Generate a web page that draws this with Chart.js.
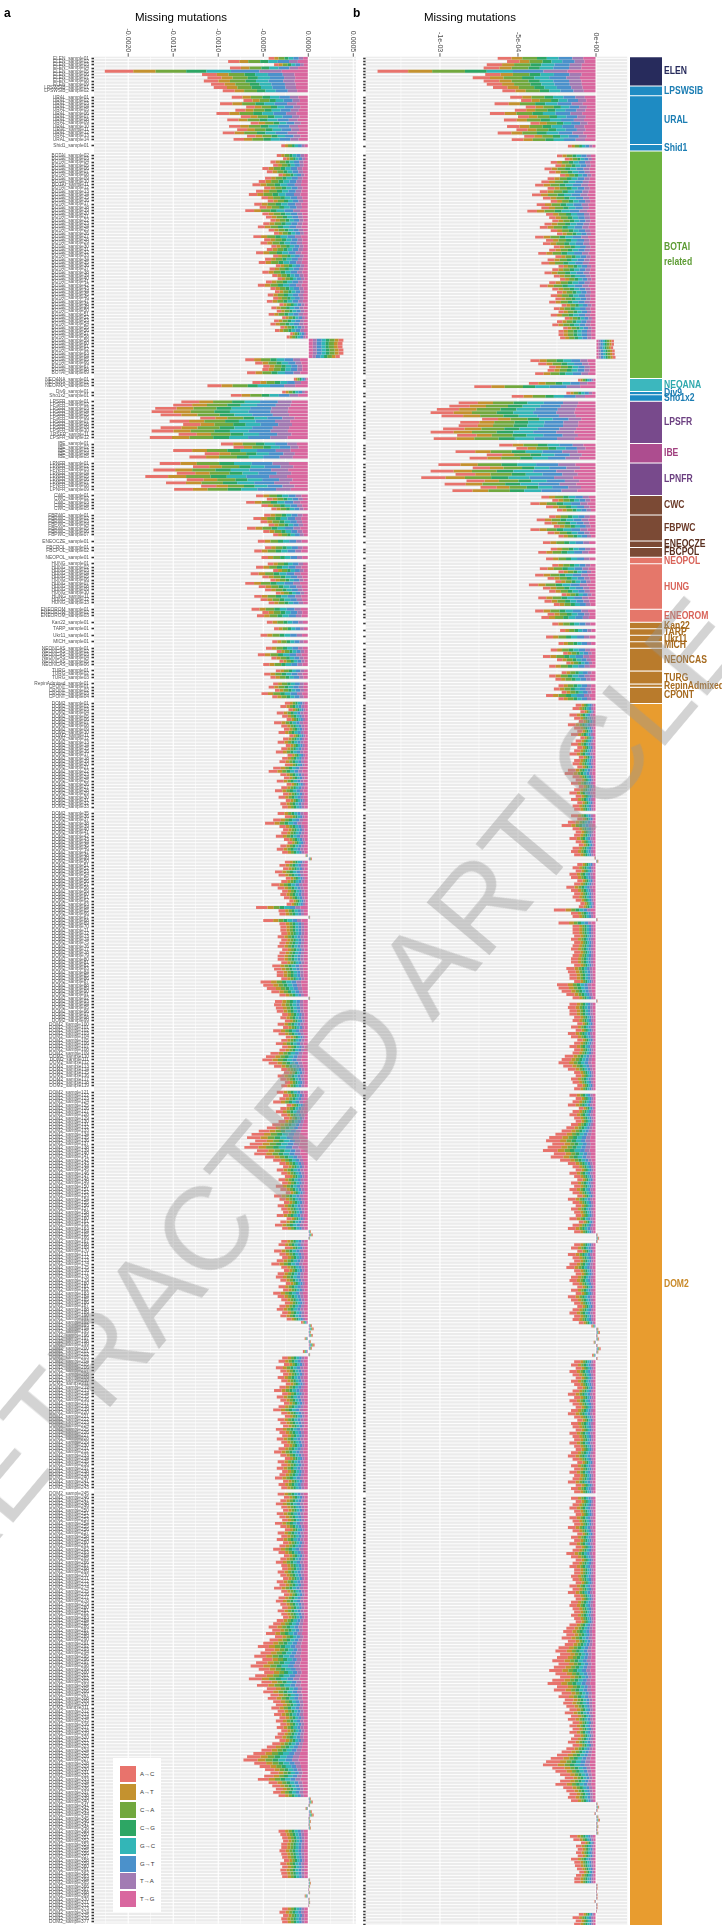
<!DOCTYPE html>
<html>
<head>
<meta charset="utf-8">
<script src="https://cdn.jsdelivr.net/npm/chart.js@4.4.1/dist/chart.umd.min.js"></script>
<style>
html, body { margin: 0; padding: 0; background: #fff; }
body { width: 722px; height: 1925px; overflow: hidden; position: relative; font-family: 'Liberation Sans', Arial, sans-serif; }
canvas { position: absolute; top: 0; }
#cA { left: 0; }
#cB { left: 340px; }
#cG { left: 630px; }
#legend { position: absolute; left: 113px; top: 1758px; width: 48px; height: 154px; background: #fff; }
#legend .key { position: absolute; left: 7px; width: 16px; height: 16px; }
#legend .lab { position: absolute; left: 27px; font-size: 6px; line-height: 16px; color: #333; white-space: nowrap; }
#wm { position: absolute; left: 322px; top: 1094px; width: 1400px; height: 140px; line-height: 140px; text-align: center;
      transform: translate(-50%, -50%) rotate(-50deg);
      font: 118px 'Liberation Sans', Arial, sans-serif; color: rgba(150,150,150,0.42);
      white-space: nowrap; pointer-events: none; z-index: 10; }
</style>
</head>
<body>
<canvas id="cA" width="358" height="1929"></canvas>
<canvas id="cB" width="290" height="1929"></canvas>
<canvas id="cG" width="92" height="1929"></canvas>
<div id="legend"></div>
<div id="wm">RETRACTED ARTICLE</div>
<script>
// ===== Data =====
const mutTypes = ['A→C', 'A→T', 'C→A', 'C→G', 'G→C', 'G→T', 'T→A', 'T→G'];
const mutColors = ['#E8736C', '#C4922F', '#72A83E', '#2DA664', '#33B6B7', '#4B91CB', '#A27BB3', '#D9679F'];

// share of each mutation type in a bar (ancient samples / modern DOM2 samples)
const shareAncient = [0.14, 0.11, 0.15, 0.10, 0.12, 0.14, 0.11, 0.13];
const shareModernA = [0.22, 0.12, 0.11, 0.09, 0.11, 0.10, 0.10, 0.15];
const shareModernB = [0.28, 0.13, 0.10, 0.09, 0.10, 0.09, 0.09, 0.12];

const groupNames = ['ELEN', 'LPSWSIB', 'URAL', 'Shid1', 'BOTAI related', 'NEOANA', 'Div9', 'Sho1x2', 'LPSFR', 'IBE',
  'LPNFR', 'CWC', 'FBPWC', 'ENEOCZE', 'FBCPOL', 'NEOPOL', 'HUNG', 'ENEOROM', 'Kan22', 'TARP',
  'Ukr11', 'MICH', 'NEONCAS', 'TURG', 'RepinAdmixed', 'CPONT', 'DOM2'];
// rows per group (blank separator rows included)
const groupSizes = [9, 3, 15, 2, 70, 4, 1, 2, 13, 6, 10, 6, 8, 2, 3, 2, 14, 4, 2, 2, 2, 2, 7, 4, 1, 5, 377];
const groupFill = ['#272B5C', '#1E8BC3', '#1E8BC3', '#1E8BC3', '#6DB33F', '#3CB7BE', '#1E8BC3', '#1E8BC3', '#784A8C', '#AD4D8F',
  '#784A8C', '#7B4A35', '#7B4A35', '#7B4A35', '#7B4A35', '#E5776A', '#E5776A', '#E5776A', '#B97B2C', '#B97B2C',
  '#B97B2C', '#B97B2C', '#B97B2C', '#B97B2C', '#B97B2C', '#B97B2C', '#E89C2F'];
const groupText = ['#272B5C', '#1B7DB3', '#1B7DB3', '#1B7DB3', '#5E9C35', '#2FA9AE', '#1B7DB3', '#1B7DB3', '#6B3F80', '#A0407F',
  '#6B3F80', '#6B3A28', '#6B3A28', '#5A3020', '#5A3020', '#D9645A', '#D9645A', '#D9645A', '#A66A1F', '#A66A1F',
  '#A66A1F', '#A66A1F', '#A66A1F', '#A66A1F', '#A66A1F', '#A66A1F', '#C98A2A'];

// panel a: total missing mutations per row (x 1e-4), null = blank row
const missA = [
  -4.4, -8.9, -3.8, -8.7, -22.6, -11.8, -11.2, -11.6, -10.8,           // ELEN
  -10.5, -9.5, null,                                                    // LPSWSIB
  -8.5, -7.2, -9.8, -6.9, -8.1, -10.2, -7.5, -9.0, -6.4, -8.8, -7.9, -9.5, -6.8, -8.3, null, // URAL
  -3.0, null,                                                           // Shid1
  null,                                                                 // BOTAI related
  -3.5, -2.8, -4.2, -3.9, -5.1, -4.6, -3.3, -4.8, -5.5, -6.2,
  -4.9, -5.8, -6.6, -5.2, -4.5, -6.0, -5.4, -7.0, -5.1, -4.7,
  -4.2, -5.0, -5.6, -4.4, -3.8, -6.1, -4.9, -5.3, -4.1, -4.6,
  -5.8, -3.9, -4.8, -5.5, -3.6, -4.3, -5.1, -4.0, -3.4, -4.7,
  -5.6, -4.2, -3.7, -4.5, -3.9, -4.6, -3.2, -4.1, -3.5, -4.4,
  -2.9, -3.8, -4.2, -3.1,
  -3.7, -2.0, -2.4,
  3.9, 3.8, 3.8, 3.9, 3.9, 3.5,
  -7.0, -5.9, -5.0, -5.1, -6.8, null,
  -1.6, -6.2, -11.2, null,                                              // NEOANA
  -2.9,                                                                 // Div9
  -8.6, null,                                                           // Sho1x2
  -14.1, -15.0, -17.0, -17.4, -16.4, -12.0, -15.4, -13.9, -16.4, -17.4, -14.4, -17.6, null, // LPSFR
  -9.7, -8.3, -15.0, -11.5, -13.2, null,                                // IBE
  -16.5, -12.8, -17.2, -14.6, -18.1, -13.5, -15.8, -11.9, -14.9, null,  // LPNFR
  -5.8, -4.6, -6.9, -5.2, -4.1, null,                                   // CWC
  -4.9, -6.1, -5.3, -4.4, -6.8, -5.0, -3.9, null,                       // FBPWC
  -5.6, null,                                                           // ENEOCZE
  -4.8, -6.0, null,                                                     // FBCPOL
  -5.2, null,                                                           // NEOPOL
  -4.5, -5.8, -3.9, -6.4, -5.1, -4.2, -7.0, -5.5, -4.8, -3.6, -6.0, -5.3, -4.4, null, // HUNG
  -6.3, -5.1, -5.7, null,                                               // ENEOROM
  -4.6, null,                                                           // Kan22
  -3.8, null,                                                           // TARP
  -5.3, null,                                                           // Ukr11
  -4.0, null,                                                           // MICH
  -4.7, -3.5, -5.6, -4.1, -3.2, -5.0, null,                             // NEONCAS
  -3.6, -4.9, -4.2, null,                                               // TURG
  -3.9,                                                                 // RepinAdmixed
  -4.4, -3.7, -5.2, -4.0, null,                                         // CPONT
  // DOM2
  -2.6, -3.1, -2.2, -3.5, -2.9, -2.4, -3.8, -3.0, -2.7, -3.3,
  -2.1, -2.8, -3.4, -2.5, -3.0, -3.6, -2.3, -2.9, -3.2, -2.6,
  -3.9, -4.4, -3.1, -2.7, -3.5, -2.4, -3.0, -3.7, -2.8, -3.3,
  -2.5, -3.1, -2.9, null, -3.4, -2.6, -3.9, -4.8, -3.2, -2.8,
  -3.0, -3.6, -2.7, -2.3, -3.1, -3.5, -2.9, -0.3, 0.4, -2.6,
  -3.2, -2.8, -3.7, -3.3, -2.5, -3.0, -4.1, -3.4, -2.9, -3.1,
  -2.7,
  -2.1, -2.4, -5.8, -3.3, -3.2, 0.2, -5.0, -3.2, -3.1, -3.1,
  -3.0, -3.4, -3.0, -3.2, -3.4, -2.9, -3.2, -3.4, -3.4, -3.0,
  -4.0, -3.8, -3.5, -3.5, -3.0, -5.3, -5.0, -4.6, -4.1, -3.2,
  0.2, -3.7, -3.8, -3.6, -3.5, -2.9,
  -3.1, -2.6, -3.4, -2.8, -3.9, -3.3, -2.5, -3.0, -3.6, -2.9,
  -3.2, -4.2, -4.7, -5.1, -4.4, -3.8, -3.0, -2.7, -3.4, -3.1,
  -2.6, -3.0, null, -3.5, -2.8, -3.2, -3.9, -2.4, -3.1, -3.6,
  -3.0, -2.7, -3.3, -4.0, -4.6, -5.5, -6.3, -6.8, -5.9, -6.5,
  -7.1, -5.7, -6.0, -4.8, -3.9, -3.2, -2.8, -3.5, -3.0, -2.6,
  -3.3, -2.9, -3.6, -3.1, -2.5, -3.8, -3.2, -2.7, -3.4, -3.0,
  -2.8, -3.5, -2.4, -3.1, -3.7, -2.9, 0.3, 0.5, 0.2, -3.0,
  -3.3, -2.6, -3.8, -3.2, -2.9, -3.5, -4.1, -3.0, -2.7, -3.4,
  -3.6, -3.1, -2.5, -3.3, -2.8, -3.9, -3.4, -3.0, -2.6, -3.2,
  -3.5, -2.9, -3.1, -2.4, -0.8, 0.4, 0.6, 0.3, 0.5, -0.4,
  0.3, 0.7, 0.4, -0.6, 0.2, -2.9, -3.3, -2.7, -3.6, -3.1,
  -2.8, -3.4, -3.0, -2.5, -3.2, -3.8, -2.9, -3.5, -3.1, -2.7,
  -3.3, -3.9, -3.0, -2.6, -3.4, -3.1, -2.8, -3.6, -3.2, -2.9,
  -3.5, -3.0, -2.7, -3.3, -3.8, -3.1, -2.6, -3.4, -3.0, -3.5,
  -2.9, -3.2, -3.7, -2.8, -3.3, -3.0, null, -3.4, -2.7, -3.1,
  -3.6, -3.0, -2.8, -3.5, -3.2, -2.9, -3.7, -3.1, -2.6, -3.4,
  -3.0, -3.5, -2.8, -3.2, -3.9, -3.3, -2.7, -3.1, -3.6, -3.0,
  -2.9, -3.4, -3.1, -2.8, -3.5, -3.2, -3.8, -3.0, -2.7, -3.3,
  -3.6, -3.1, -2.9, -3.4, -3.0, -2.8, -3.5, -3.9, -4.4, -4.0,
  -4.7, -3.7, -4.3, -5.0, -5.6, -4.8, -5.3, -6.0, -5.1, -5.8,
  -6.4, -5.5, -4.9, -5.9, -6.6, -5.2, -5.7, -4.6, -5.0, -4.2,
  -4.5, -3.9, -3.6, -4.1, -3.4, -3.8, -3.2, -3.6, -3.1, -3.5,
  -3.0, -3.4, -3.7, -3.2, -4.0, -4.6, -5.2, -6.1, -6.8, -7.2,
  -6.0, -5.4, -4.8, -4.2, -4.9, -5.6, -4.4, -4.0, -3.6, -3.9,
  -3.3, 0.3, 0.5, 0.2, -0.3, 0.4, 0.6, 0.2, 0.3,
  0.2, 0.3, -3.3, -3.1, -2.9, -2.8, -3.0, -3.0, -3.2, -3.0, -2.9, -2.7, -3.1, -2.9, -3.1, -3.0, -2.9,
  0.2, 0.3, 0.2, 0.1, 0.2, -0.4, 0.15, 0.2, 0.1,
  -2.9, -3.2, -2.8, -3.0, -2.9
];

// panel b: normalised missing mutations per row (x 1e-4)
const missB = [
  -6.3, -5.7, -7.0, -7.2, -14.0, -7.1, -7.9, -7.2, -7.0,               // ELEN
  -6.6, -6.0, null,                                                     // LPSWSIB
  -5.5, -4.8, -6.5, -4.5, -5.2, -6.8, -5.0, -5.9, -4.2, -5.7, -5.1, -6.3, -4.6, -5.4, null, // URAL
  -1.8, null,                                                           // Shid1
  null,                                                                 // BOTAI related
  -2.5, -2.0, -2.9, -2.6, -3.3, -3.0, -2.3, -3.1, -3.5, -3.9,
  -3.1, -3.6, -4.1, -3.4, -2.9, -3.8, -3.5, -4.4, -3.2, -3.0,
  -2.8, -3.3, -3.6, -2.9, -2.5, -3.9, -3.2, -3.4, -2.7, -3.0,
  -3.7, -2.6, -3.1, -3.5, -2.4, -2.8, -3.3, -2.7, -2.3, -3.0,
  -3.6, -2.8, -2.5, -2.9, -2.6, -3.0, -2.2, -2.7, -2.4, -2.9,
  -2.0, -2.5, -2.8, -2.1,
  -2.4, -2.4, -2.3,
  1.15, 1.15, 1.1, 1.2, 1.2, 1.25,
  -4.2, -3.7, -3.0, -3.1, -3.9, null,
  -1.15, -4.3, -7.8, null,                                              // NEOANA
  -1.9,                                                                 // Div9
  -5.4, null,                                                           // Sho1x2
  -8.8, -9.4, -10.2, -10.6, -9.9, -7.3, -8.7, -8.8, -9.8, -10.6, -8.9, -10.4, null, // LPSFR
  -6.2, -5.1, -9.0, -7.0, -8.1, null,                                   // IBE
  -10.1, -7.9, -10.6, -9.0, -11.2, -8.3, -9.7, -7.4, -9.2, null,        // LPNFR
  -3.5, -2.8, -4.2, -3.2, -2.5, null,                                   // CWC
  -3.0, -3.8, -3.3, -2.7, -4.2, -3.1, -2.4, null,                       // FBPWC
  -3.4, null,                                                           // ENEOCZE
  -2.9, -3.7, null,                                                     // FBCPOL
  -3.2, null,                                                           // NEOPOL
  -2.8, -3.6, -2.4, -3.9, -3.1, -2.6, -4.3, -3.4, -3.0, -2.2, -3.7, -3.3, -2.7, null, // HUNG
  -3.9, -3.1, -3.5, null,                                               // ENEOROM
  -2.8, null,                                                           // Kan22
  -2.3, null,                                                           // TARP
  -3.2, null,                                                           // Ukr11
  -2.4, null,                                                           // MICH
  -2.9, -2.1, -3.4, -2.5, -1.9, -3.0, null,                             // NEONCAS
  -2.2, -3.0, -2.6, null,                                               // TURG
  -2.4,                                                                 // RepinAdmixed
  -2.7, -2.2, -3.2, -2.4, null,                                         // CPONT
  // DOM2
  -1.3, -1.5, -1.0, -1.7, -1.4, -1.1, -1.8, -1.4, -1.2, -1.6,
  -1.0, -1.3, -1.6, -1.2, -1.4, -1.7, -1.1, -1.4, -1.5, -1.2,
  -1.8, -2.0, -1.5, -1.3, -1.6, -1.1, -1.4, -1.7, -1.3, -1.6,
  -1.2, -1.5, -1.4, null, -1.6, -1.2, -1.8, -2.2, -1.5, -1.3,
  -1.4, -1.7, -1.3, -1.1, -1.5, -1.6, -1.4, -0.1, 0.15, -1.2,
  -1.5, -1.3, -1.7, -1.6, -1.2, -1.4, -1.9, -1.6, -1.4, -1.5,
  -1.3,
  -1.0, -1.1, -2.7, -1.6, -1.5, 0.1, -2.4, -1.5, -1.5, -1.5,
  -1.4, -1.6, -1.4, -1.5, -1.6, -1.4, -1.5, -1.6, -1.6, -1.4,
  -1.9, -1.8, -1.7, -1.7, -1.4, -2.5, -2.4, -2.2, -1.9, -1.5,
  0.1, -1.7, -1.8, -1.7, -1.7, -1.4,
  -1.5, -1.2, -1.6, -1.3, -1.8, -1.6, -1.2, -1.4, -1.7, -1.4,
  -1.5, -2.0, -2.2, -2.4, -2.1, -1.8, -1.4, -1.3, -1.6, -1.5,
  -1.2, -1.4, null, -1.7, -1.3, -1.5, -1.8, -1.1, -1.5, -1.7,
  -1.4, -1.3, -1.6, -1.9, -2.2, -2.6, -3.0, -3.2, -2.8, -3.1,
  -3.4, -2.7, -2.9, -2.3, -1.8, -1.5, -1.3, -1.7, -1.4, -1.2,
  -1.6, -1.4, -1.7, -1.5, -1.2, -1.8, -1.5, -1.3, -1.6, -1.4,
  -1.3, -1.7, -1.1, -1.5, -1.8, -1.4, 0.1, 0.2, 0.1, -1.4,
  -1.6, -1.2, -1.8, -1.5, -1.4, -1.7, -1.9, -1.4, -1.3, -1.6,
  -1.7, -1.5, -1.2, -1.6, -1.3, -1.8, -1.6, -1.4, -1.2, -1.5,
  -1.7, -1.4, -1.5, -1.1, -0.3, 0.15, 0.25, 0.1, 0.2, -0.15,
  0.1, 0.3, 0.15, -0.25, 0.1, -1.4, -1.6, -1.3, -1.7, -1.5,
  -1.3, -1.6, -1.4, -1.2, -1.5, -1.8, -1.4, -1.7, -1.5, -1.3,
  -1.6, -1.8, -1.4, -1.2, -1.6, -1.5, -1.3, -1.7, -1.5, -1.4,
  -1.7, -1.4, -1.3, -1.6, -1.8, -1.5, -1.2, -1.6, -1.4, -1.7,
  -1.4, -1.5, -1.8, -1.3, -1.6, -1.4, null, -1.6, -1.3, -1.5,
  -1.7, -1.4, -1.3, -1.7, -1.5, -1.4, -1.8, -1.5, -1.2, -1.6,
  -1.4, -1.7, -1.3, -1.5, -1.9, -1.6, -1.3, -1.5, -1.7, -1.4,
  -1.4, -1.6, -1.5, -1.3, -1.7, -1.5, -1.8, -1.4, -1.3, -1.6,
  -1.7, -1.5, -1.4, -1.6, -1.4, -1.3, -1.7, -1.9, -2.1, -1.9,
  -2.2, -1.8, -2.0, -2.4, -2.6, -2.3, -2.5, -2.8, -2.4, -2.7,
  -3.0, -2.6, -2.3, -2.8, -3.1, -2.5, -2.7, -2.2, -2.4, -2.0,
  -2.1, -1.9, -1.7, -2.0, -1.6, -1.8, -1.5, -1.7, -1.5, -1.7,
  -1.4, -1.6, -1.8, -1.5, -1.9, -2.2, -2.5, -2.9, -3.2, -3.4,
  -2.8, -2.6, -2.3, -2.0, -2.3, -2.6, -2.1, -1.9, -1.7, -1.8,
  -1.6, 0.1, 0.2, 0.1, -0.1, 0.15, 0.25, 0.1, 0.15,
  0.1, 0.15, -1.67, -1.45, -0.96, -1.28, -1.17, -1.28, -1.17, -1.6, -1.39, -1.35, -1.22, -1.07, -1.28, -1.39, -1.39,
  0.1, 0.1, 0.05, 0.1, 0.1, -0.1, 0.1, 0.1, 0.05,
  -1.1, -1.5, -1.3, -1.4, -1.2
];

// axis ticks
const gridA = [-0.00225, -0.002, -0.00175, -0.0015, -0.00125, -0.001, -0.00075, -0.0005, -0.00025, 0, 0.00025, 0.0005];
const majorA = [-0.002, -0.0015, -0.001, -0.0005, 0, 0.0005];
const majorLabelsA = ['-0.0020', '-0.0015', '-0.0010', '-0.0005', '0.0000', '0.0005'];
const gridB = [-0.00125, -0.001, -0.00075, -0.0005, -0.00025, 0];
const majorB = [-0.001, -0.0005, 0];
const majorLabelsB = ['-1e-03', '-5e-04', '0e+00'];

// ===== Build rows =====
const N = groupSizes.reduce((s, v) => s + v, 0);
if (missA.length !== N || missB.length !== N) {
    throw new Error('row count mismatch: ' + N + ' ' + missA.length + ' ' + missB.length);
}
const rowGroup = [];
const labels = [];
groupNames.forEach((g, gi) => {
    for (let k = 0; k < groupSizes[gi]; k++) {
        const r = rowGroup.length;
        rowGroup.push(gi);
        labels.push(missA[r] === null ? '' : g.split(' ')[0] + '_sample' + String(k + 1).padStart(2, '0'));
    }
});
const domIndex = groupNames.indexOf('DOM2');

function buildDatasets(totals, modernShare) {
    // T→G is stacked next to zero, A→C at the outer end
    const order = [7, 6, 5, 4, 3, 2, 1, 0];
    return order.map(k => ({
        label: mutTypes[k],
        backgroundColor: mutColors[k],
        data: totals.map((v, i) => {
            if (v === null) return null;
            const share = rowGroup[i] === domIndex ? modernShare : shareAncient;
            return v * 1e-4 * share[k];
        })
    }));
}

// ===== Plugins =====
const FONT = "'Liberation Sans', Arial, sans-serif";
Chart.defaults.font.family = FONT;

// grey panel, a white line through every row, white vertical grid lines
function panelBg(major) {
    return {
        id: 'panelBg',
        beforeDatasetsDraw(chart) {
            const { ctx, chartArea: a } = chart;
            const ys = chart.scales.y;
            const xs = chart.scales.x;
            ctx.save();
            ctx.fillStyle = '#EBEBEB';
            ctx.fillRect(a.left, a.top, a.right - a.left, a.bottom - a.top);
            ctx.fillStyle = '#FFFFFF';
            for (let i = 0; i < labels.length; i++) {
                const y = ys.getPixelForValue(i);
                ctx.fillRect(a.left, y - 0.45, a.right - a.left, 0.9);
            }
            xs.ticks.forEach(t => {
                const px = xs.getPixelForValue(t.value);
                const w = major.includes(t.value) ? 1.1 : 0.5;
                ctx.fillRect(px - w / 2, a.top, w, a.bottom - a.top);
            });
            ctx.restore();
        }
    };
}

function topAxis(letter, letterX, titleX, vals, texts) {
    return {
        id: 'topAxis',
        afterDraw(chart) {
            const { ctx, chartArea: a } = chart;
            const xs = chart.scales.x;
            ctx.save();
            ctx.fillStyle = '#000';
            ctx.textBaseline = 'alphabetic';
            ctx.textAlign = 'left';
            ctx.font = 'bold 12px ' + FONT;
            ctx.fillText(letter, letterX, 17);
            ctx.textAlign = 'center';
            ctx.font = '11.5px ' + FONT;
            ctx.fillText('Missing mutations', titleX, 21);
            ctx.font = '7px ' + FONT;
            ctx.fillStyle = '#4D4D4D';
            ctx.strokeStyle = '#333';
            ctx.lineWidth = 0.8;
            vals.forEach((v, i) => {
                const px = xs.getPixelForValue(v);
                ctx.save();
                ctx.translate(px, a.top - 4.5);
                ctx.rotate(Math.PI / 2);
                ctx.textAlign = 'right';
                ctx.textBaseline = 'middle';
                ctx.fillText(texts[i], 0, 0);
                ctx.restore();
                ctx.beginPath();
                ctx.moveTo(px, a.top - 3.5);
                ctx.lineTo(px, a.top);
                ctx.stroke();
            });
            ctx.restore();
        }
    };
}

function panelOptions(min, max, grid, axisWidth, padRight, showLabels) {
    return {
        indexAxis: 'y',
        responsive: false,
        animation: false,
        layout: { padding: { left: 0, right: padRight, top: 0, bottom: 0 } },
        datasets: { bar: { barPercentage: 0.9, categoryPercentage: 1.0, borderWidth: 0 } },
        plugins: { legend: { display: false }, tooltip: { enabled: false } },
        scales: {
            x: {
                position: 'top',
                stacked: true,
                min: min,
                max: max,
                afterBuildTicks(s) { s.ticks = grid.map(v => ({ value: v })); },
                afterFit(s) { s.height = 56.7; },
                border: { display: false },
                ticks: { display: false },
                grid: { drawOnChartArea: false, drawTicks: false }
            },
            y: {
                stacked: true,
                afterFit(s) { s.width = axisWidth; },
                border: { display: false },
                grid: {
                    drawOnChartArea: false,
                    offset: false,
                    drawTicks: true,
                    tickLength: 2.5,
                    tickWidth: 1.6,
                    tickColor: c => (c.tick && c.tick.label) ? '#333333' : 'rgba(0,0,0,0)'
                },
                ticks: { display: showLabels, autoSkip: false, font: { size: 4.8 }, color: '#555555', padding: 2.5 }
            }
        }
    };
}

// ===== Panel a =====
new Chart(document.getElementById('cA'), {
    type: 'bar',
    data: { labels: labels, datasets: buildDatasets(missA, shareModernA) },
    options: panelOptions(-0.00238, 0.00053, gridA, 94, 2, true),
    plugins: [panelBg(majorA), topAxis('a', 4, 181, majorA, majorLabelsA)]
});

// ===== Panel b =====
new Chart(document.getElementById('cB'), {
    type: 'bar',
    data: { labels: labels, datasets: buildDatasets(missB, shareModernB) },
    options: panelOptions(-0.001476, 0.0002, gridB, 25.7, 2.8, false),
    plugins: [panelBg(majorB), topAxis('b', 13, 130, majorB, majorLabelsB)]
});

// ===== Group bar =====
// vertical nudge of a group name (px), where the name is not centred on its block
const labelNudge = { 'BOTAI related': -10, 'DOM2': -32 };

const groupLabels = {
    id: 'groupLabels',
    afterDatasetsDraw(chart) {
        const { ctx } = chart;
        ctx.save();
        ctx.font = 'bold 11px ' + FONT;
        ctx.textAlign = 'left';
        ctx.textBaseline = 'middle';
        groupNames.forEach((g, i) => {
            const el = chart.getDatasetMeta(i).data[0];
            const mid = (el.y + el.base) / 2 + (labelNudge[g] || 0);
            const x = el.x + el.width / 2 + 2;
            ctx.fillStyle = groupText[i];
            const lines = g.split(' ');
            lines.forEach((ln, j) => {
                ctx.save();
                ctx.translate(x, mid + (j - (lines.length - 1) / 2) * 15);
                ctx.scale(0.78, 1);
                ctx.fillText(ln, 0, 0);
                ctx.restore();
            });
        });
        ctx.restore();
    }
};

new Chart(document.getElementById('cG'), {
    type: 'bar',
    data: {
        labels: ['group'],
        datasets: groupNames.map((g, i) => ({
            label: g,
            data: [groupSizes[i]],
            backgroundColor: groupFill[i],
            borderColor: '#FFFFFF',
            borderWidth: { top: 0.8, bottom: 0.8, left: 0, right: 0 },
            borderSkipped: false,
            barPercentage: 1,
            categoryPercentage: 1
        }))
    },
    options: {
        responsive: false,
        animation: false,
        layout: { padding: { top: 56.7, right: 60, left: 0, bottom: 0 } },
        plugins: { legend: { display: false }, tooltip: { enabled: false } },
        scales: {
            x: { display: false, stacked: true },
            y: { display: false, stacked: true, min: 0, max: N, reverse: true }
        }
    },
    plugins: [groupLabels]
});

// ===== Legend =====
const legend = document.getElementById('legend');
mutTypes.forEach((m, i) => {
    const key = document.createElement('div');
    key.className = 'key';
    key.style.top = (8 + i * 17.9) + 'px';
    key.style.background = mutColors[i];
    legend.appendChild(key);
    const lab = document.createElement('div');
    lab.className = 'lab';
    lab.style.top = (8 + i * 17.9) + 'px';
    lab.textContent = m;
    legend.appendChild(lab);
});
</script>
</body>
</html>
